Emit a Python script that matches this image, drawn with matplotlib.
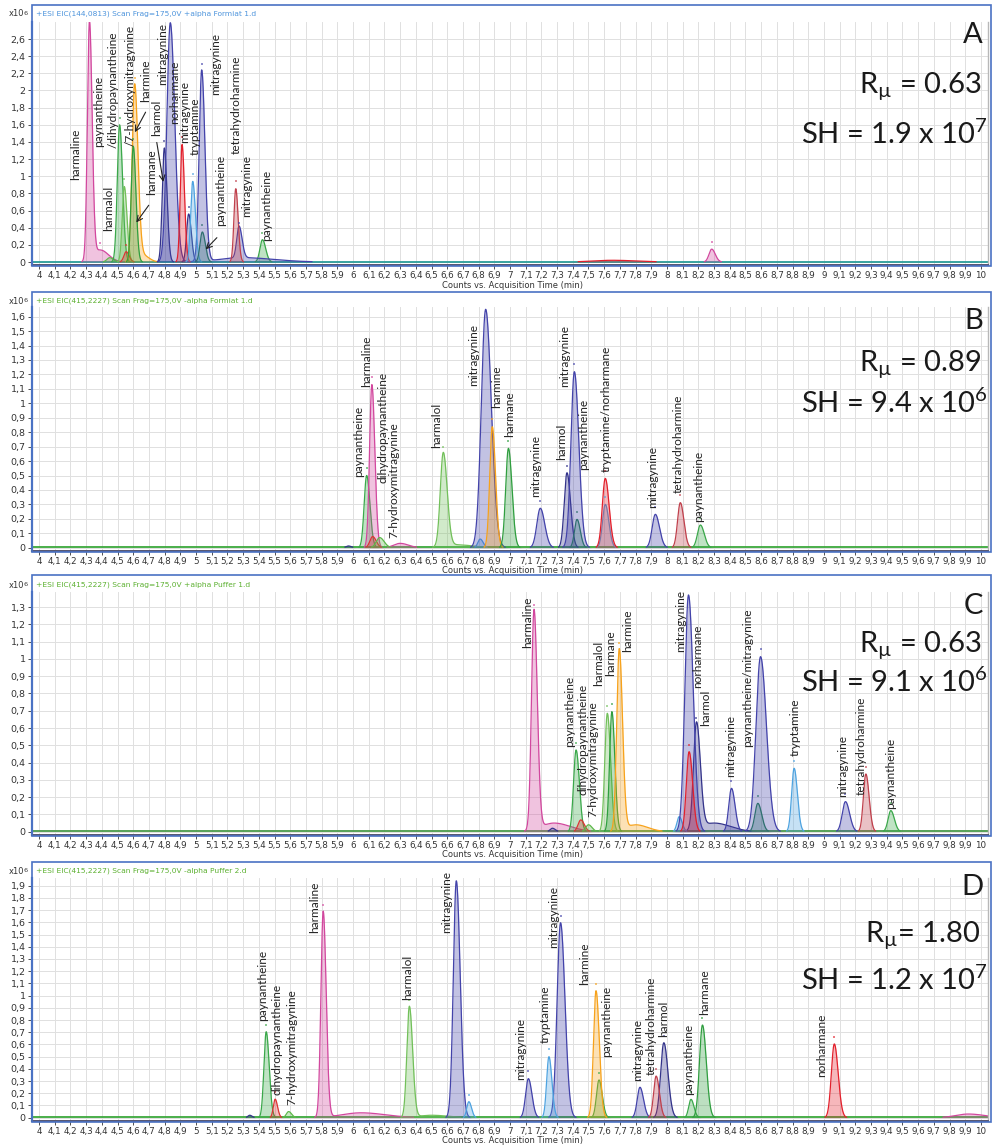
import numpy as np
import matplotlib
matplotlib.use('Agg')
import matplotlib.pyplot as plt
from matplotlib.patches import Rectangle

# ---------------- data (values in 10^6 counts, time in min) ----------------
A_TRACE = ['harmaline', 'harmaline', 'harmaline', '7-hydroxymitragynine', 'paynantheine', 'harmalol',
           'dihydropaynantheine', 'harmine', 'harmine', 'harmane', 'harmol', 'harmol', 'mitragynine',
           'norharmane', 'tryptamine', 'mitragynine', 'mitragynine', 'paynantheine-2',
           'tetrahydroharmine', 'mitragynine', 'paynantheine', 'norharmane']
A_TIME = [4.321, 4.39, 8.285, 4.45, 4.513, 4.543, 4.555, 4.609, 4.66, 4.600, 4.798, 4.953, 4.836,
          4.911, 4.979, 5.036, 5.30, 5.040, 5.253, 5.274, 5.423, 7.65]
A_HEIGHT = [2.78, 0.14, 0.15, 0.05, 1.60, 0.88, 0.12, 2.06, 0.08, 1.35, 1.33, 0.56, 2.79,
            1.37, 0.94, 2.23, 0.05, 0.35, 0.855, 0.37, 0.26, 0.02]
A_WIDTH = [0.009, 0.04, 0.012, 0.012, 0.010, 0.009, 0.010, 0.011, 0.03, 0.009, 0.009, 0.009, 0.015,
           0.008, 0.009, 0.011, 0.15, 0.010, 0.008, 0.010, 0.011, 0.12]

A_LABELS = ['harmaline', 'paynantheine', '/dihydropaynantheine', '/7-hydroxymitragynine', 'harmine',
            'harmol', 'harmane', 'harmalol', 'mitragynine', 'norharmane', 'mitragynine', 'tryptamine',
            'mitragynine', 'tetrahydroharmine', 'paynantheine', 'mitragynine', 'paynantheine']
A_LABEL_T = [4.236, 4.379, 4.474, 4.577, 4.681, 4.747, 4.719, 4.443, 4.789, 4.866, 4.929, 4.992,
             5.123, 5.257, 5.155, 5.321, 5.447]
A_LABEL_Y = [0.96, 1.337, 1.33, 1.35, 1.87, 1.465, 0.785, 0.357, 2.06, 1.61, 1.39, 1.25,
             1.95, 1.26, 0.416, 0.525, 0.24]
A_ARROW_FROM = [(4.687, 1.776), (4.747, 1.426), (4.709, 0.688), (5.145, 0.307)]
A_ARROW_TO = [(4.602, 1.485), (4.794, 0.902), (4.609, 0.435), (5.049, 0.124)]

B_TRACE = ['harmol', 'paynantheine', 'harmaline', 'harmaline', 'dihydropaynantheine',
           '7-hydroxymitragynine', 'harmalol', 'harmalol', 'tryptamine', 'mitragynine', 'harmine',
           'harmane', 'mitragynine', 'harmol', 'mitragynine', 'paynantheine-2', 'norharmane',
           'tryptamine', 'mitragynine', 'tetrahydroharmine', 'paynantheine']
B_TIME = [5.97, 6.087, 6.120, 6.30, 6.125, 6.17, 6.575, 6.66, 6.81, 6.845, 6.887,
          6.990, 7.193, 7.363, 7.410, 7.427, 7.607, 7.607, 7.926, 8.085, 8.213]
B_HEIGHT = [0.012, 0.50, 1.13, 0.03, 0.077, 0.07, 0.649, 0.02, 0.06, 1.651, 0.838,
            0.688, 0.273, 0.519, 1.219, 0.196, 0.48, 0.30, 0.231, 0.312, 0.157]
B_WIDTH = [0.01, 0.011, 0.010, 0.04, 0.012, 0.015, 0.013, 0.08, 0.01, 0.019, 0.011,
           0.012, 0.015, 0.012, 0.015, 0.011, 0.013, 0.012, 0.014, 0.012, 0.013]

B_LABELS = ['paynantheine', 'harmaline', 'dihydropaynantheine', '7-hydroxymitragynine', 'harmalol',
            'mitragynine', 'harmine', 'harmane', 'mitragynine', 'harmol', 'mitragynine', 'paynantheine',
            'tryptamine/norharmane', 'mitragynine', 'tetrahydroharmine', 'paynantheine']
B_LABEL_T = [6.034, 6.087, 6.189, 6.257, 6.533, 6.771, 6.916, 6.996, 7.164, 7.33, 7.347, 7.468,
             7.616, 7.906, 8.072, 8.20]
B_LABEL_Y = [0.487, 1.115, 0.446, 0.065, 0.688, 1.12, 0.965, 0.769, 0.353, 0.607, 1.11, 0.538,
             0.527, 0.273, 0.377, 0.18]

C_TRACE = ['harmaline', 'harmaline', 'harmol', 'paynantheine', 'dihydropaynantheine',
           '7-hydroxymitragynine', 'harmalol', 'harmane', 'harmine', 'harmine', 'tryptamine',
           'mitragynine', 'norharmane', 'harmol', 'harmol', 'mitragynine', 'mitragynine',
           'paynantheine-2', 'tryptamine', 'mitragynine', 'tetrahydroharmine', 'paynantheine']
C_TIME = [7.153, 7.28, 7.27, 7.421, 7.451, 7.50, 7.620, 7.649, 7.696, 7.80, 8.078,
          8.137, 8.141, 8.188, 8.30, 8.411, 8.596, 8.579, 8.810, 9.137, 9.267, 9.426]
C_HEIGHT = [1.273, 0.05, 0.02, 0.473, 0.068, 0.04, 0.685, 0.695, 1.051, 0.04, 0.087,
            1.37, 0.463, 0.617, 0.05, 0.251, 1.013, 0.164, 0.367, 0.174, 0.334, 0.122]
C_WIDTH = [0.011, 0.08, 0.01, 0.011, 0.012, 0.012, 0.011, 0.010, 0.011, 0.06, 0.010,
           0.016, 0.012, 0.013, 0.08, 0.012, 0.020, 0.013, 0.011, 0.014, 0.011, 0.012]

C_LABELS = ['harmaline', 'paynantheine', 'dihydropaynantheine', '7-hydroxymitragynine', 'harmalol',
            'harmane', 'harmine', 'mitragynine', 'norharmane', 'harmol', 'mitragynine',
            'paynantheine/mitragynine', 'tryptamine', 'mitragynine', 'tetrahydroharmine', 'paynantheine']
C_LABEL_T = [7.11, 7.378, 7.463, 7.531, 7.563, 7.641, 7.749, 8.086, 8.198, 8.245, 8.406, 8.513,
             8.814, 9.122, 9.239, 9.426]
C_LABEL_Y = [1.061, 0.492, 0.212, 0.087, 0.843, 0.901, 1.042, 1.042, 0.83, 0.612, 0.315, 0.488,
             0.438, 0.199, 0.212, 0.13]

D_TRACE = ['harmol', 'paynantheine', 'dihydropaynantheine', '7-hydroxymitragynine', 'harmaline',
           'harmaline', 'harmalol', 'harmalol', 'mitragynine', 'tryptamine', 'mitragynine',
           'tryptamine', 'mitragynine', 'harmine', 'paynantheine', 'mitragynine', 'tetrahydroharmine',
           'harmol', 'paynantheine', 'harmane', 'norharmane', 'harmaline']
D_TIME = [5.342, 5.447, 5.504, 5.59, 5.810, 6.05, 6.359, 6.50, 6.658, 6.738, 7.117,
          7.248, 7.322, 7.548, 7.567, 7.828, 7.931, 7.980, 8.153, 8.226, 9.066, 9.92]
D_HEIGHT = [0.02, 0.704, 0.152, 0.05, 1.687, 0.04, 0.909, 0.02, 1.94, 0.131, 0.32,
            0.50, 1.597, 1.04, 0.309, 0.249, 0.341, 0.614, 0.15, 0.759, 0.604, 0.03]
D_WIDTH = [0.008, 0.010, 0.008, 0.010, 0.010, 0.12, 0.011, 0.08, 0.013, 0.009, 0.012,
           0.010, 0.015, 0.011, 0.011, 0.012, 0.011, 0.014, 0.010, 0.013, 0.013, 0.08]

D_LABELS = ['paynantheine', 'dihydropaynantheine', '7-hydroxymitragynine', 'harmaline', 'harmalol',
            'mitragynine', 'mitragynine', 'tryptamine', 'mitragynine', 'harmine', 'paynantheine',
            'mitragynine', 'tetrahydroharmine', 'harmol', 'paynantheine', 'harmane', 'norharmane']
D_LABEL_T = [5.423, 5.513, 5.61, 5.757, 6.347, 6.598, 7.068, 7.226, 7.28, 7.475, 7.617, 7.816,
             7.902, 7.978, 8.14, 8.243, 8.985]
D_LABEL_Y = [0.795, 0.186, 0.103, 1.515, 0.964, 1.515, 0.309, 0.609, 1.387, 1.087, 0.494, 0.303,
             0.35, 0.663, 0.186, 0.841, 0.331]

HEADERS = ['+ESI EIC(144,0813) Scan Frag=175,0V +alpha Formiat 1.d',
           '+ESI EIC(415,2227) Scan Frag=175,0V -alpha Formiat 1.d',
           '+ESI EIC(415,2227) Scan Frag=175,0V +alpha Puffer 1.d',
           '+ESI EIC(415,2227) Scan Frag=175,0V -alpha Puffer 2.d']
LETTERS = ['A', 'B', 'C', 'D']
R_MU = ['0.63', '0.89', '0.63', '1.80']
SH_MANT = ['1.9', '9.4', '9.1', '1.2']
SH_EXP = ['7', '6', '6', '7']
Y_TICK_MAX = [2.6, 1.6, 1.3, 1.9]
Y_TICK_STEP = [0.2, 0.1, 0.1, 0.1]

# ---------------- styles / layout ----------------
COLORS = {
    'harmaline': '#d2479e', 'harmalol': '#72c05a', 'harmine': '#f7a21b', 'harmane': '#2f9e3f',
    'mitragynine': '#4343aa', 'paynantheine': '#3aa84a', 'paynantheine-2': '#2f7070',
    'tetrahydroharmine': '#c0404c', 'norharmane': '#e3202c', 'tryptamine': '#4ea3e0',
    'harmol': '#33338a', 'dihydropaynantheine': '#dd3333', '7-hydroxymitragynine': '#5db84a',
}
BASE_COL = ['#2a9d9a', '#3aa83a', '#4a9a4a', '#3aa83a']
PEAK_SCALE = 1.45   # narrow peaks are drawn a bit broader (readout was of the apex)
W, H = 996, 1145
# frame top, header y, plot top, zero line y, pixels per 1e6
GEOM = [(5, 14, 22, 262.0, 85.75),
        (292, 301, 307, 547.7, 144.4),
        (575, 585, 592, 831.7, 172.8),
        (862, 871, 878, 1117.7, 122.1)]
# baselines (letter, R, SH) in pixels
TXT_Y = [(43, 93, 144), (329, 371, 413), (614, 652, 692), (895, 942, 990)]
HDR_COL = ['#4d94dc', '#5cb030', '#5cb030', '#5cb030']
FRAME_COL = '#4a72c4'
SMALL = ['Liberation Sans Narrow', 'DejaVu Sans']
LBL_FONT = ['Lato', 'DejaVu Sans']
BIG_FONT = ['Lato', 'DejaVu Sans']

def fx(x):
    return x / W

def fy(y):
    return 1 - y / H

fig = plt.figure(figsize=(W / 100, H / 100), dpi=100)
t = np.linspace(3.955, 10.045, 7000)

panels = [
    (A_TRACE, A_TIME, A_HEIGHT, A_WIDTH, A_LABELS, A_LABEL_T, A_LABEL_Y),
    (B_TRACE, B_TIME, B_HEIGHT, B_WIDTH, B_LABELS, B_LABEL_T, B_LABEL_Y),
    (C_TRACE, C_TIME, C_HEIGHT, C_WIDTH, C_LABELS, C_LABEL_T, C_LABEL_Y),
    (D_TRACE, D_TIME, D_HEIGHT, D_WIDTH, D_LABELS, D_LABEL_T, D_LABEL_Y),
]

for i, (trc, tm, hh, ww, labs, lt, ly) in enumerate(panels):
    ftop, hdr_y, ptop, y0, ppu = GEOM[i]
    abot = y0 + 3
    ax = fig.add_axes([fx(32), fy(abot), (988 - 32) / W, (abot - ptop) / H])
    ytop = (y0 - ptop) / ppu
    ax.set_xlim(3.955, 10.045)
    ax.set_ylim(-3 / ppu, ytop)

    ax.axhline(0.002 * ytop, color=BASE_COL[i], lw=1.3, zorder=1.5)

    # traces
    keys = []
    for k in trc:
        if k not in keys:
            keys.append(k)
    for k in keys:
        y = np.zeros_like(t)
        for kk, t0, h, w in zip(trc, tm, hh, ww):
            if kk == k:
                if w < 0.03:
                    w = w * PEAK_SCALE
                sig = np.where(t < t0, w, w * 1.3)
                y += h * np.exp(-0.5 * ((t - t0) / sig) ** 2)
        c = COLORS[k]
        ax.fill_between(t, 0, y, color=c, alpha=0.32, lw=0, zorder=2)
        ax.plot(t, np.where(y > 0.004, y, np.nan), color=c, lw=0.9, zorder=2)
    for kk, t0, h in zip(trc, tm, hh):
        if h > 0.1:
            ax.plot(t0, h + 0.03 * ytop, 's', ms=1.6, color=COLORS[kk], alpha=0.6, mew=0)

    for s, x, yy in zip(labs, lt, ly):
        ax.text(x, yy, s, rotation=90, ha='center', va='bottom', fontsize=8.6,
                family=LBL_FONT, color='#222222', zorder=5)

    if i == 0:
        for a, b in zip(A_ARROW_FROM, A_ARROW_TO):
            ax.annotate('', xy=b, xytext=a,
                        arrowprops=dict(arrowstyle='->', color='#222222', lw=0.8))

    # axes styling
    xt = np.round(np.arange(4.0, 10.001, 0.1), 1)
    ax.set_xticks(xt)
    ax.set_xticklabels([f'{v:g}'.replace('.', ',') for v in xt], fontsize=6.3, family=SMALL)
    n = int(round(Y_TICK_MAX[i] / Y_TICK_STEP[i]))
    yt = np.round(np.arange(n + 1) * Y_TICK_STEP[i], 1)
    ax.set_yticks(yt)
    ax.set_yticklabels([f'{v:g}'.replace('.', ',') for v in yt], fontsize=6.8, family=SMALL)
    ax.tick_params(length=3, width=0.6, pad=1.5, colors='#333333')
    ax.grid(True, color='#e0e0e0', lw=0.7)
    ax.set_axisbelow(True)
    ax.spines['top'].set_visible(False)
    ax.spines['left'].set_color(FRAME_COL)
    ax.spines['left'].set_linewidth(1.6)
    ax.spines['bottom'].set_color('#555570')
    ax.spines['bottom'].set_linewidth(1.4)
    ax.spines['right'].set_color('#b8b8b8')
    ax.spines['right'].set_linewidth(1.0)

    # frame, header and annotations in figure space
    fig.patches.append(Rectangle((fx(32), fy(abot + 1)), (991 - 32) / W, (abot + 1 - ftop) / H,
                                 transform=fig.transFigure, fill=False, ec=FRAME_COL, lw=1.2))
    fig.text(fx(36), fy(hdr_y), HEADERS[i], fontsize=5.4, color=HDR_COL[i], va='center', family=SMALL)
    fig.text(fx(9), fy(hdr_y), 'x10', fontsize=6.0, color='#333333', va='center', family=SMALL)
    fig.text(fx(23), fy(hdr_y + 2), '6', fontsize=4.6, color='#333333', va='bottom', family=SMALL)
    fig.text(fx(512), fy(abot + 20), 'Counts vs. Acquisition Time (min)', fontsize=6.0,
             color='#333333', ha='center', va='center', family=SMALL)

    ly0, ly1, ly2 = TXT_Y[i]
    fig.text(fx(983), fy(ly0), LETTERS[i], fontsize=21, ha='right', va='baseline',
             family=BIG_FONT, color='#1a1a1a')
    rtxt = r'R$_{\mathregular{µ}}$' + (' = ' if i < 3 else '= ') + R_MU[i]
    fig.text(fx(981), fy(ly1), rtxt, fontsize=21, ha='right', va='baseline',
             family=BIG_FONT, color='#1a1a1a')
    shtxt = 'SH = ' + SH_MANT[i] + ' x 10$^{\\mathregular{' + SH_EXP[i] + '}}$'
    fig.text(fx(988), fy(ly2), shtxt, fontsize=21, ha='right', va='baseline',
             family=BIG_FONT, color='#1a1a1a')

fig.savefig('out.png', dpi=100)
